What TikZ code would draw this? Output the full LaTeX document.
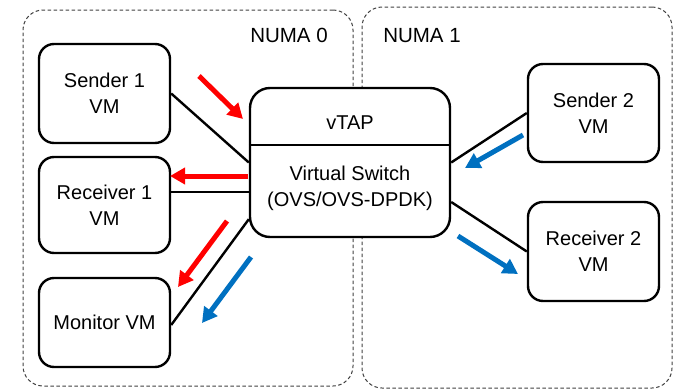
\documentclass[tikz,border=0pt]{standalone}
\usepackage{fontspec}
\setmainfont{Liberation Sans}
\usetikzlibrary{arrows.meta}
\definecolor{flowred}{RGB}{255,0,0}
\definecolor{flowblue}{RGB}{0,112,192}
\begin{document}
\begin{tikzpicture}[x=1pt,y=-1pt,
  numabox/.style={draw=black!75,dashed,dash pattern=on 3.5pt off 2.5pt,line width=1pt,rounded corners=20pt,inner sep=0pt},
  vmbox/.style={draw,line width=2.4pt,rounded corners=15pt,minimum width=131pt,align=center,inner sep=0pt,fill=white,font=\fontsize{20}{26}\selectfont},
  link/.style={line width=2.4pt},
  flow/.style={line width=5pt,-{Triangle[length=15pt,width=16pt]}},
  lbl/.style={font=\fontsize{20.5}{24}\selectfont,inner sep=0pt}]
\useasboundingbox (0,0) rectangle (673,389);
% NUMA regions
\node[numabox,minimum width=330pt,minimum height=376pt] (numa0) at (188,198) {};
\node[numabox,minimum width=310pt,minimum height=381pt] (numa1) at (517,197.5) {};
\node[lbl] (l0) at (289,35) {NUMA 0};
\node[lbl] (l1) at (422,36) {NUMA 1};
% VMs
\node[vmbox,minimum height=99pt] (s1) at (104.5,93.5) {Sender 1\\VM};
\node[vmbox,minimum height=96pt] (r1) at (104.5,205) {Receiver 1\\VM};
\node[vmbox,minimum height=89pt] (mon) at (104.5,322.5) {Monitor VM};
\node[vmbox,minimum height=98pt] (s2) at (593.5,113) {Sender 2\\VM};
\node[vmbox,minimum height=99pt] (r2) at (593.5,251.5) {Receiver 2\\VM};
% switch
\node[draw,fill=white,line width=2.4pt,rounded corners=20pt,minimum width=200pt,minimum height=149pt,inner sep=0pt] (vs) at (350,162.5) {};
\draw[link] (vs.west |- 0,145) -- (vs.east |- 0,145);
\node[lbl,font=\fontsize{20}{24}\selectfont] (vtap) at (350,123) {vTAP};
\node[lbl,align=center,font=\fontsize{20}{26}\selectfont] (vsw) at (350,188.5) {Virtual Switch\\(OVS/OVS-DPDK)};
% links
\draw[link] (s1.east) -- (vs.west);
\draw[link] ([yshift=13pt]r1.east) -- ([yshift=13pt]r1.east -| vs.west);
\draw[link] ([yshift=-2.5pt]mon.east) -- ([yshift=19pt]vs.south west);
\draw[link] (s2.west) -- (vs.east);
\draw[link] ([yshift=-39.5pt]vs.east) -- (r2.west);
% flows
\coordinate (a1s) at (199,76);  \coordinate (a1e) at (243,119);
\coordinate (a2s) at (248,176); \coordinate (a2e) at (170,176);
\coordinate (a3s) at (227,221); \coordinate (a3e) at (178,287);
\coordinate (b1s) at (251,257); \coordinate (b1e) at (202,323);
\coordinate (b2s) at (523,135); \coordinate (b2e) at (465,168);
\coordinate (b3s) at (458,236); \coordinate (b3e) at (518,274);
\draw[flow,flowred] (a1s) -- (a1e);
\draw[flow,flowred] (a2s) -- (a2e);
\draw[flow,flowred] (a3s) -- (a3e);
\draw[flow,flowblue] (b1s) -- (b1e);
\draw[flow,flowblue] (b2s) -- (b2e);
\draw[flow,flowblue] (b3s) -- (b3e);
\end{tikzpicture}
\end{document}
